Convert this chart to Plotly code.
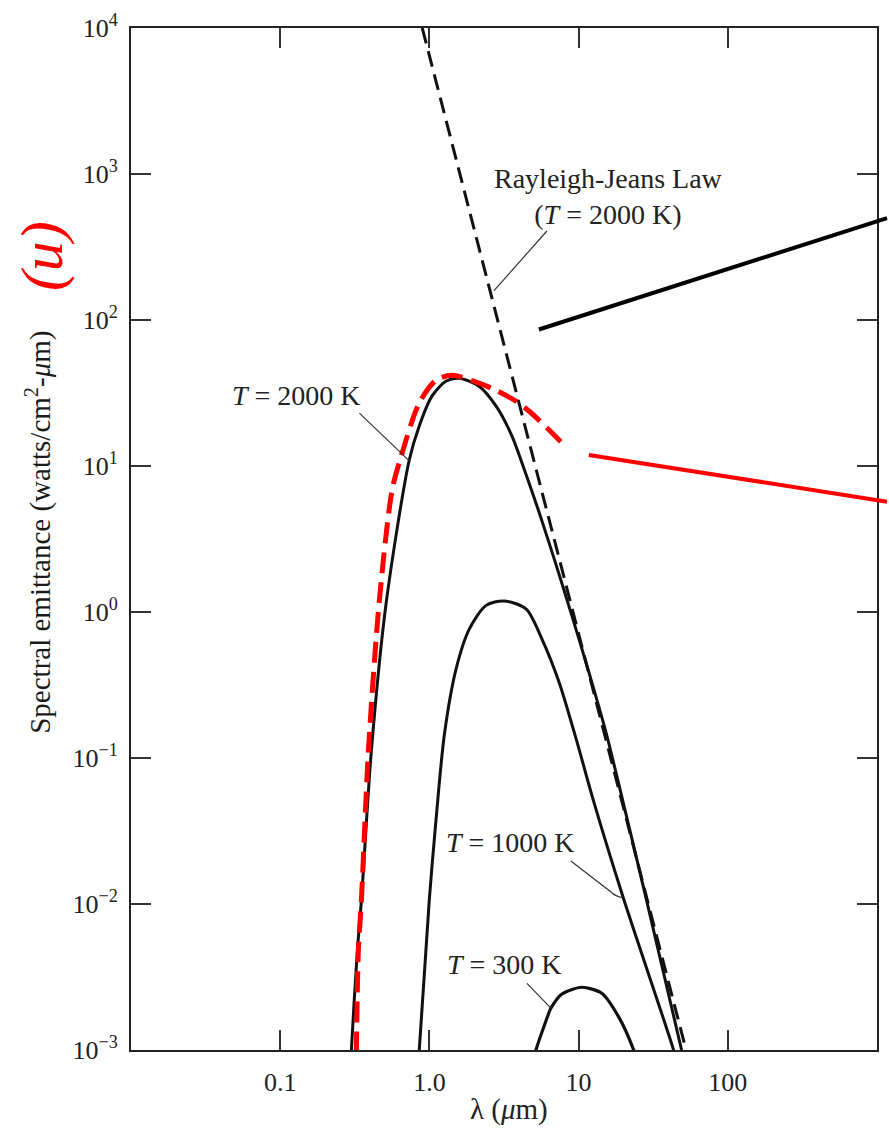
import plotly.graph_objects as go

# ---------------- data ----------------
wl_2000 = [0.290, 0.300, 0.329, 0.350, 0.408, 0.514, 0.733, 0.855, 1.04, 1.29, 1.58,
           2.15, 2.80, 3.57, 4.44, 5.42, 7.05, 9.02, 11.7, 15.2, 19.1, 28.6, 49.0, 54.6]
em_2000 = [4.5e-4, 1.0e-3, 4.8e-3, 0.0105, 0.111, 1.17, 11.0, 18.8, 30.1, 38.1, 39.9,
           35.2, 25.7, 16.1, 8.77, 4.86, 2.12, 0.94, 0.389, 0.152, 0.0591, 0.0105, 1.0e-3, 6.25e-4]

wl_1000 = [0.817, 0.855, 0.997, 1.11, 1.26, 1.51, 1.85, 2.40, 3.16, 4.44, 5.68, 7.38,
           9.73, 12.6, 20.0, 43.3, 49.0]
em_1000 = [6.25e-4, 1.0e-3, 0.0105, 0.0387, 0.145, 0.408, 0.764, 1.11, 1.19, 1.05, 0.653, 0.333,
           0.130, 0.0506, 0.0109, 1.0e-3, 6.25e-4]

wl_300 = [4.65, 5.18, 6.00, 6.52, 7.73, 10.5, 14.3, 18.6, 23.4, 27.0]
em_300 = [6.25e-4, 1.0e-3, 1.55e-3, 1.93e-3, 2.42e-3, 2.69e-3, 2.45e-3, 1.68e-3, 1.0e-3, 6.25e-4]

wl_rj = [0.895, 52.5]
em_rj = [1.0e4, 1.0e-3]

wl_red = [0.322, 0.324, 0.334, 0.350, 0.390, 0.461, 0.563, 0.647, 0.855, 1.11, 1.42,
          2.15, 2.80, 3.80, 4.65, 6.32, 8.09]
em_red = [6.0e-4, 1.0e-3, 4.8e-3, 0.0105, 0.111, 1.17, 6.89, 11.7, 27.0, 38.7, 41.9,
          36.9, 33.0, 27.8, 23.8, 17.7, 13.7]

x_tickvals = [0.1, 1.0, 10, 100]
x_ticktext = ["0.1", "1.0", "10", "100"]
y_exponents = [-3, -2, -1, 0, 1, 2, 3, 4]
y_tickvals = [10.0 ** e for e in y_exponents]
y_ticktext = ["10<sup>%s</sup>" % (str(e).replace("-", "\u2212")) for e in y_exponents]

# ---------------- layout helpers ----------------
W, H = 889, 1131
ML, MR, MT, MB = 131, 10, 23, 81
PW, PH = W - ML - MR, H - MT - MB
SERIF = "Liberation Serif, Times New Roman, serif"


def px(x):
    return (x - ML) / PW


def py(y):
    return (H - MB - y) / PH


fig = go.Figure()

fig.add_trace(go.Scatter(x=wl_2000, y=em_2000, mode="lines",
                         line=dict(color="#111", width=3, shape="spline", smoothing=0.8)))
fig.add_trace(go.Scatter(x=wl_1000, y=em_1000, mode="lines",
                         line=dict(color="#111", width=3, shape="spline", smoothing=0.8)))
fig.add_trace(go.Scatter(x=wl_300, y=em_300, mode="lines",
                         line=dict(color="#111", width=3.2, shape="spline", smoothing=0.7)))
fig.add_trace(go.Scatter(x=wl_rj, y=em_rj, mode="lines",
                         line=dict(color="#111", width=3, dash="16px,8px")))
fig.add_trace(go.Scatter(x=wl_red, y=em_red, mode="lines",
                         line=dict(color="#ff0000", width=5, dash="21px,9px",
                                   shape="spline", smoothing=0.8)))

shapes = []


def seg(x0, y0, x1, y1, color="#333", width=1.2):
    shapes.append(dict(type="line", xref="paper", yref="paper",
                       x0=px(x0), y0=py(y0), x1=px(x1), y1=py(y1),
                       line=dict(color=color, width=width)))


def pt(x, y):
    return "%.5f,%.5f" % (px(x), py(y))


# leader lines for labels
seg(360, 410, 410, 458)
seg(548, 227, 495, 287)
shapes.append(dict(type="path", xref="paper", yref="paper",
                   path="M " + pt(572, 860) + " L " + pt(612, 891) + " Q " + pt(617, 896) + " " + pt(624, 897),
                   line=dict(color="#333", width=1.2)))
seg(528, 983, 552, 1008)
# pointer lines running off to the right
seg(540, 326, 889, 214, color="#000", width=4)
seg(590, 452, 889, 499, color="#ff0000", width=4)

annotations = []


def label(x, y, text, size=28, color="#222", angle=0, xanchor="center"):
    annotations.append(dict(xref="paper", yref="paper", x=px(x), y=py(y), text=text,
                            showarrow=False, textangle=angle, xanchor=xanchor, yanchor="middle",
                            font=dict(family=SERIF, size=size, color=color)))


label(297, 392, "<i>T</i> = 2000 K")
label(610, 192, "Rayleigh-Jeans Law<br>(<i>T</i> = 2000 K)")
label(512, 841, "<i>T</i> = 1000 K")
label(506, 964, "<i>T</i> = 300 K")
label(42, 252, "<i>(u)</i>", size=60, color="#ff0000", angle=-90)
label(38, 530, "Spectral emittance (watts/cm<sup>2</sup>-<i>\u03bc</i>m)", size=29, color="#1a1a1a", angle=-90)
label(510, 1110, "\u03bb (<i>\u03bc</i>m)", size=29)

fig.update_layout(
    width=W, height=H,
    margin=dict(l=ML, r=MR, t=MT, b=MB, pad=0),
    paper_bgcolor="white", plot_bgcolor="white",
    showlegend=False,
    shapes=shapes, annotations=annotations,
    font=dict(family=SERIF, size=26, color="#222"),
)
fig.update_xaxes(type="log", range=[-2, 3], showgrid=False, zeroline=False,
                 showline=True, linecolor="#222", linewidth=2, mirror="ticks",
                 ticks="inside", ticklen=20, tickwidth=1.5, tickcolor="#333",
                 tickvals=x_tickvals, ticktext=x_ticktext, ticklabelstandoff=8,
                 tickfont=dict(family=SERIF, size=26, color="#222"))
fig.update_yaxes(type="log", range=[-3, 4], showgrid=False, zeroline=False,
                 showline=True, linecolor="#222", linewidth=2, mirror="ticks",
                 ticks="inside", ticklen=20, tickwidth=1.5, tickcolor="#333",
                 tickvals=y_tickvals, ticktext=y_ticktext, ticklabelstandoff=6,
                 tickfont=dict(family=SERIF, size=26, color="#222"))

fig.write_html("out.html")
